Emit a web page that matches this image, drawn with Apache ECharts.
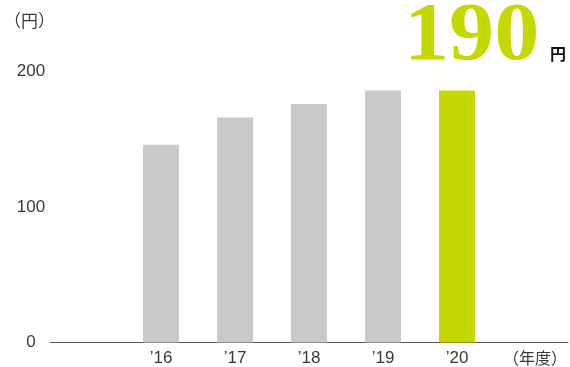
<!DOCTYPE html>
<html><head><meta charset="utf-8">
<script src="https://cdn.jsdelivr.net/npm/echarts@6/dist/echarts.min.js"></script>
<style>html,body{margin:0;padding:0;background:#fff}#c{width:570px;height:367px}</style>
</head><body><div id="c"></div>
<script>
const categories = ['', '\u201916', '\u201917', '\u201918', '\u201919', '\u201920', '\uff08年度\uff09'];
const values = [null, 146, 166, 176, 186, 186, null];
const yTicks = [0, 100, 200];
const highlightValue = '190';
const unit = '円';
const yName = '\uff08円\uff09';

const grey = '#c8c9c8', green = '#c5d800';
const font = 'Liberation Sans, "Noto Sans CJK JP", sans-serif';
const cjk = '"Noto Sans CJK JP", sans-serif';
const chart = echarts.init(document.getElementById('c'));
chart.setOption({
  animation: false,
  grid: { left: 50, right: 1, top: 71.5, bottom: 24.5, containLabel: false },
  xAxis: {
    type: 'category', data: categories,
    axisLine: { lineStyle: { color: '#555', width: 1 } },
    axisTick: { show: false },
    axisLabel: { color: '#3a3a3a', fontSize: 17, fontFamily: font, margin: 7, interval: 0,
      formatter: (v, i) => i === categories.length - 1 ? '{j|' + v + '}' : v,
      rich: { j: { fontSize: 16, fontFamily: cjk, color: '#3a3a3a', padding: [0, 0, 0, 8] } }
    }
  },
  yAxis: {
    type: 'value', min: yTicks[0], max: yTicks[yTicks.length - 1], interval: 100,
    axisLine: { show: false }, axisTick: { show: false }, splitLine: { show: false },
    axisLabel: { color: '#3a3a3a', fontSize: 17, fontFamily: font, align: 'center', margin: 19 }
  },
  series: [{
    type: 'bar', barWidth: 36,
    data: values.map((v, i) => ({ value: v, itemStyle: { color: i === 5 ? green : grey } }))
  }],
  graphic: [
    { type: 'text', left: 4, top: 12, style: { text: yName, fill: '#3a3a3a', font: '17px ' + cjk } },
    { type: 'text', x: 404, y: -3, scaleX: 1.1, style: { text: highlightValue, fill: green, font: 'bold 82px "Liberation Serif", serif' } },
    { type: 'text', left: 550, top: 46, style: { text: unit, fill: '#111', font: 'bold 16px ' + cjk } }
  ]
});
</script></body></html>
